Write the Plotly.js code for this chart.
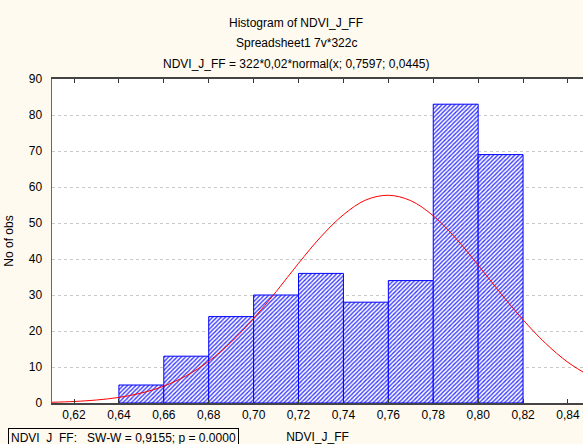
<!DOCTYPE html>
<html>
<head>
<meta charset="utf-8">
<script src="https://cdn.plot.ly/plotly-3.0.1.min.js"></script>
<style>
html,body{margin:0;padding:0;overflow:hidden;background:#fffaf0;}
#chart{width:583px;height:444px;}
</style>
</head>
<body>
<div id="chart"></div>
<script>
// Histogram bins (midpoints) and counts
var binCenters = [0.65, 0.67, 0.69, 0.71, 0.73, 0.75, 0.77, 0.79, 0.81];
var counts = [5, 13, 24, 30, 36, 28, 34, 83, 69];
var binWidth = 0.02;

// Fitted normal curve
var curveX = [0.61, 0.62, 0.63, 0.64, 0.65, 0.66, 0.67, 0.68, 0.69, 0.70, 0.71, 0.72, 0.73, 0.74, 0.75, 0.76, 0.77, 0.78, 0.79, 0.80, 0.81, 0.82, 0.83, 0.84, 0.85];
var curveY = [0.2, 0.42, 0.83, 1.55, 2.77, 4.69, 7.57, 11.6, 16.9, 23.5, 30.9, 38.8, 46.2, 52.3, 56.4, 57.7, 56.2, 52.0, 45.8, 38.3, 30.5, 23.1, 16.6, 11.3, 7.4];

var xTicks = [0.62, 0.64, 0.66, 0.68, 0.70, 0.72, 0.74, 0.76, 0.78, 0.80, 0.82, 0.84];
var xTickText = ["0,62", "0,64", "0,66", "0,68", "0,70", "0,72", "0,74", "0,76", "0,78", "0,80", "0,82", "0,84"];
var yTicks = [0, 10, 20, 30, 40, 50, 60, 70, 80, 90];

var titleLines = ["Histogram of NDVI_J_FF", "Spreadsheet1 7v*322c", "NDVI_J_FF = 322*0,02*normal(x; 0,7597; 0,0445)"];
var statText = "NDVI_J_FF:&nbsp;&nbsp; SW-W = 0,9155; p = 0.0000";
var xTitle = "NDVI_J_FF";
var yTitle = "No of obs";

var font = {family: "Liberation Sans, Arial, sans-serif", size: 12, color: "#000"};

var traces = [
  {
    type: "bar",
    x: binCenters,
    y: counts,
    width: binWidth,
    marker: {
      color: "#ffffff",
      pattern: {shape: "/", fgcolor: "#3a3aff", bgcolor: "#ffffff", size: 3, solidity: 0.45},
      line: {color: "#0000ff", width: 1}
    },
    hoverinfo: "skip",
    showlegend: false
  },
  {
    type: "scatter",
    mode: "lines",
    x: curveX,
    y: curveY,
    line: {color: "#ff0000", width: 1, shape: "spline"},
    hoverinfo: "skip",
    showlegend: false
  }
];

var layout = {
  width: 583,
  height: 444,
  paper_bgcolor: "#fffaf0",
  plot_bgcolor: "#ffffff",
  font: font,
  margin: {l: 52, r: 0, t: 79, b: 41, pad: 0},
  bargap: 0,
  xaxis: {
    range: [0.6102, 0.8467],
    tickvals: xTicks,
    ticktext: xTickText,
    ticks: "inside",
    ticklen: 4,
    tickcolor: "#333",
    showline: true,
    linecolor: "#444",
    linewidth: 2,
    mirror: "ticks",
    showgrid: false,
    zeroline: false,
    tickfont: font,
    title: {text: xTitle, font: font, standoff: 12}
  },
  yaxis: {
    range: [0, 90],
    tickvals: yTicks,
    ticks: "",
    showline: true,
    linecolor: "#666",
    linewidth: 1.5,
    showgrid: true,
    gridcolor: "#c8c8c8",
    griddash: "dot",
    gridwidth: 1,
    zeroline: false,
    tickfont: font,
    ticklabelstandoff: 6,
    title: {text: yTitle, font: font, standoff: 12}
  },
  annotations: [
    {text: titleLines[0], xref: "paper", yref: "paper", x: 0.5, y: 0, xanchor: "center", yanchor: "middle", showarrow: false, font: font},
    {text: titleLines[1], xref: "paper", yref: "paper", x: 0.5, y: 0, xanchor: "center", yanchor: "middle", showarrow: false, font: font},
    {text: titleLines[2], xref: "paper", yref: "paper", x: 0.5, y: 0, xanchor: "center", yanchor: "middle", showarrow: false, font: font},
    {text: statText, xref: "paper", yref: "paper", x: 0, y: 0, xanchor: "left", yanchor: "top", showarrow: false, font: font,
     bordercolor: "#000", borderwidth: 1, borderpad: 2, bgcolor: "#fffaf0", align: "left"}
  ]
};

// place annotations by pixel position in the page (converted to paper coords)
(function(){
  var plotW = 583 - 52 - 0, plotH = 444 - 79 - 41;
  function px(x){ return (x - 52) / plotW; }
  function py(y){ return (444 - 41 - y) / plotH; }
  layout.annotations[0].x = px(296); layout.annotations[0].y = py(23);
  layout.annotations[1].x = px(296); layout.annotations[1].y = py(43);
  layout.annotations[2].x = px(296); layout.annotations[2].y = py(64);
  layout.annotations[3].x = px(8);   layout.annotations[3].y = py(428);
})();

Plotly.newPlot("chart", traces, layout, {staticPlot: true, displayModeBar: false});
</script>
</body>
</html>
